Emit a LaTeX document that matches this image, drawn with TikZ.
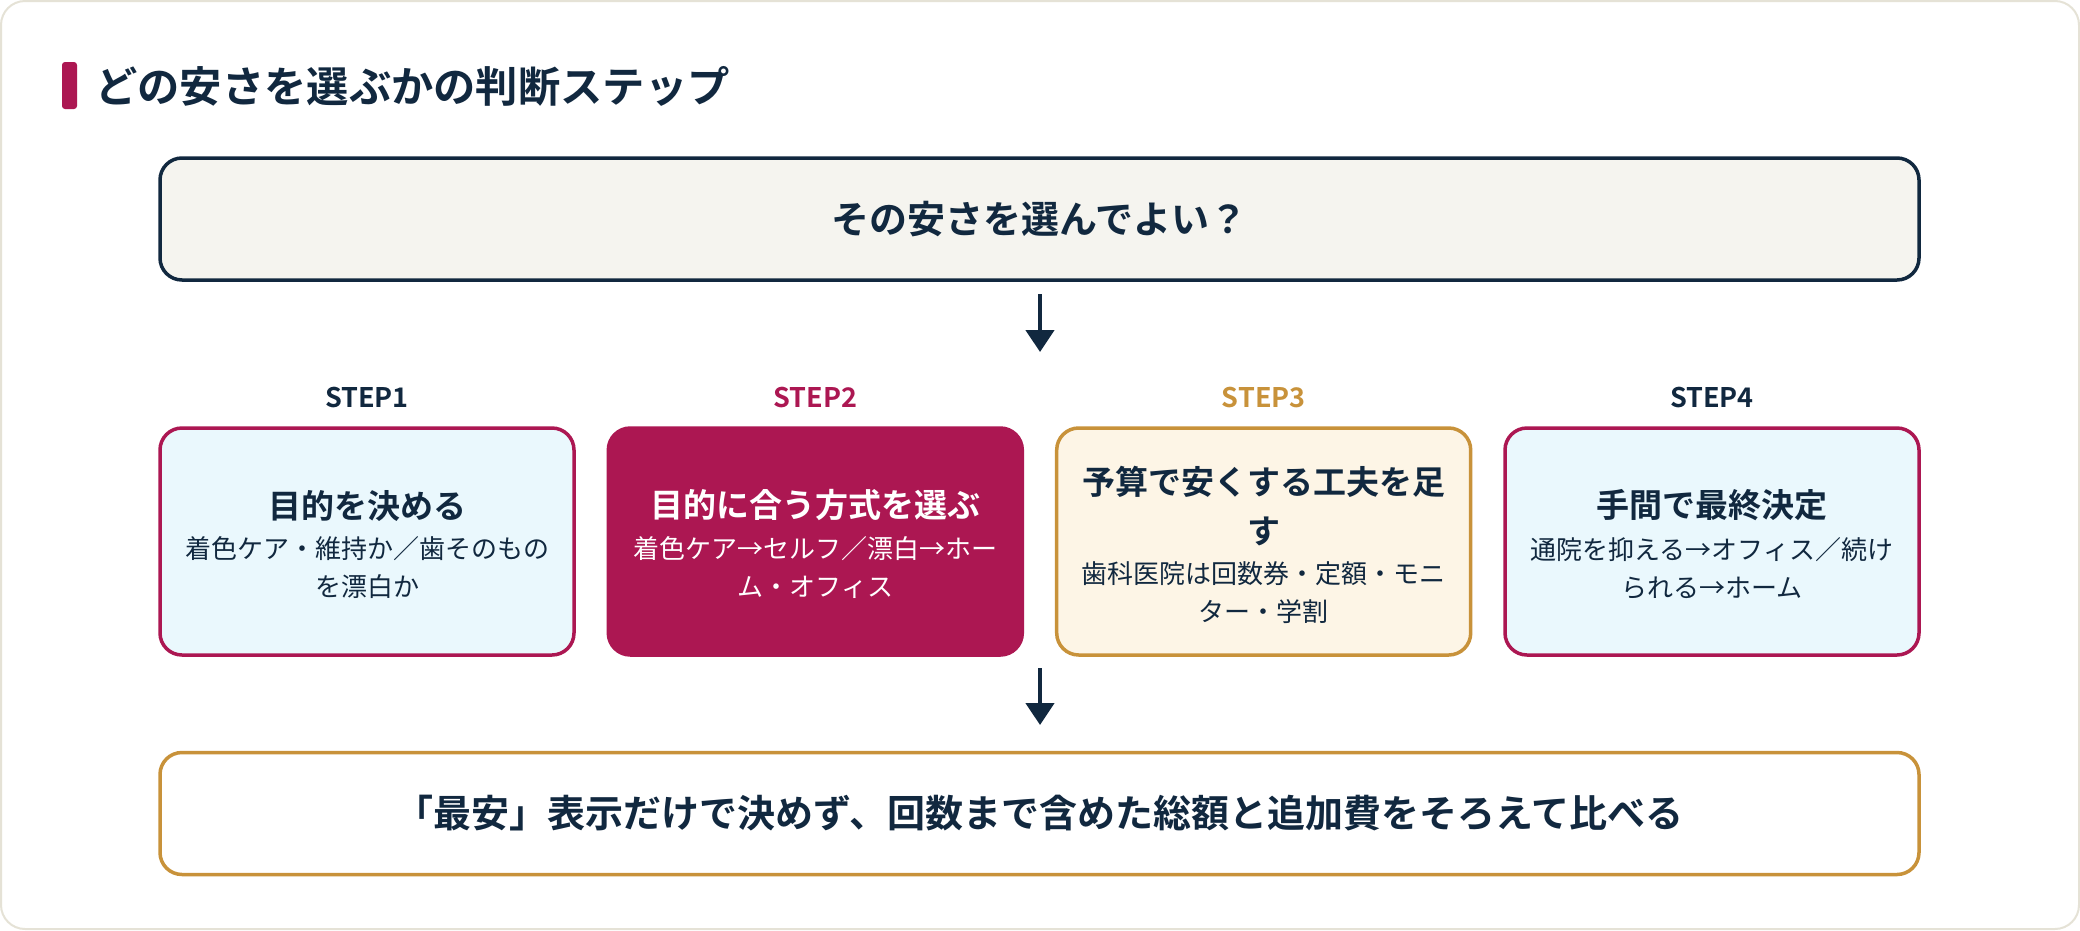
\documentclass[tikz,border=0pt]{standalone}
\usepackage{fontspec}
\setmainfont{Noto Sans CJK JP}[BoldFont={Noto Sans CJK JP Bold}]
\usetikzlibrary{arrows.meta}
\definecolor{navy}{HTML}{11283F}
\definecolor{crim}{HTML}{AC1752}
\definecolor{gold}{HTML}{C8923A}
\definecolor{frameline}{HTML}{E5E2D6}
\definecolor{topfill}{HTML}{F5F4EF}
\definecolor{cyanfill}{HTML}{EAF8FD}
\definecolor{creamfill}{HTML}{FDF5E6}
\tikzset{
  wide/.style={draw, rounded corners=22pt, line width=3.5pt, minimum width=1759pt, minimum height=122pt, inner sep=0pt, text=navy, font=\bfseries\fontsize{38}{44}\selectfont},
  stepbox/.style={draw, rounded corners=22pt, line width=3.5pt, minimum width=414pt, minimum height=227pt, inner sep=0pt},
  steplabel/.style={inner sep=0pt, font=\bfseries\fontsize{27}{32}\selectfont},
  steptitle/.style={inner sep=0pt, align=center, text=navy, font=\bfseries\fontsize{33}{49}\selectfont},
  stepdesc/.style={inner sep=0pt, align=center, text=navy, font=\fontsize{26}{38}\selectfont},
  flowarrow/.style={draw=navy, line width=4.5pt, -{Triangle[width=28pt,length=22pt]}}
}
\begin{document}
\begin{tikzpicture}[x=1pt,y=-1pt]
\useasboundingbox (0,0) rectangle (2080,930);
% frame
\path[draw=frameline, fill=white, line width=2pt, rounded corners=24pt] (1,1) rectangle (2079,929);
% title
\path[fill=crim, rounded corners=3pt] (62,62) rectangle (77,109);
\node[anchor=west, inner sep=0pt, text=navy, font=\bfseries\fontsize{42.3}{50}\selectfont] (title) at (95,86) {どの安さを選ぶかの判断ステップ};
% top box
\node[wide, draw=navy, fill=topfill] (top) at (1039.5,219) {その安さを選んでよい？};
% arrow 1
\coordinate (a1s) at (1040,294);
\coordinate (a1e) at (1040,352);
\draw[flowarrow] (a1s) -- (a1e);
% step labels
\node[steplabel, text=navy] (l1) at (367,398) {STEP1};
\node[steplabel, text=crim] (l2) at (815.3,398) {STEP2};
\node[steplabel, text=gold] (l3) at (1263.7,398) {STEP3};
\node[steplabel, text=navy] (l4) at (1712,398) {STEP4};
% step boxes
\node[stepbox, draw=crim, fill=cyanfill] (s1) at (367,541.5) {};
\node[stepbox, draw=crim, fill=crim] (s2) at (815.3,541.5) {};
\node[stepbox, draw=gold, fill=creamfill] (s3) at (1263.7,541.5) {};
\node[stepbox, draw=crim, fill=cyanfill] (s4) at (1712,541.5) {};
% step texts
\node[steptitle] (s1t) at (367,506) {目的を決める};
\node[stepdesc] (s1d) at (367,568) {着色ケア・維持か／歯そのもの\\を漂白か};
\node[steptitle, text=white] (s2t) at (815.3,505) {目的に合う方式を選ぶ};
\node[stepdesc, text=white] (s2d) at (815.3,567.5) {着色ケア→セルフ／漂白→ホー\\ム・オフィス};
\node[steptitle] (s3t) at (1263.7,506.5) {予算で安くする工夫を足\\す};
\node[stepdesc] (s3d) at (1263.7,593) {歯科医院は回数券・定額・モニ\\ター・学割};
\node[steptitle] (s4t) at (1712,505) {手間で最終決定};
\node[stepdesc] (s4d) at (1712,568) {通院を抑える→オフィス／続け\\られる→ホーム};
% arrow 2
\coordinate (a2s) at (1040,668);
\coordinate (a2e) at (1040,725);
\draw[flowarrow] (a2s) -- (a2e);
% bottom box
\node[wide, draw=gold, fill=white] (bot) at (1039.5,813.5) {「最安」表示だけで決めず、回数まで含めた総額と追加費をそろえて比べる};
\end{tikzpicture}
\end{document}
